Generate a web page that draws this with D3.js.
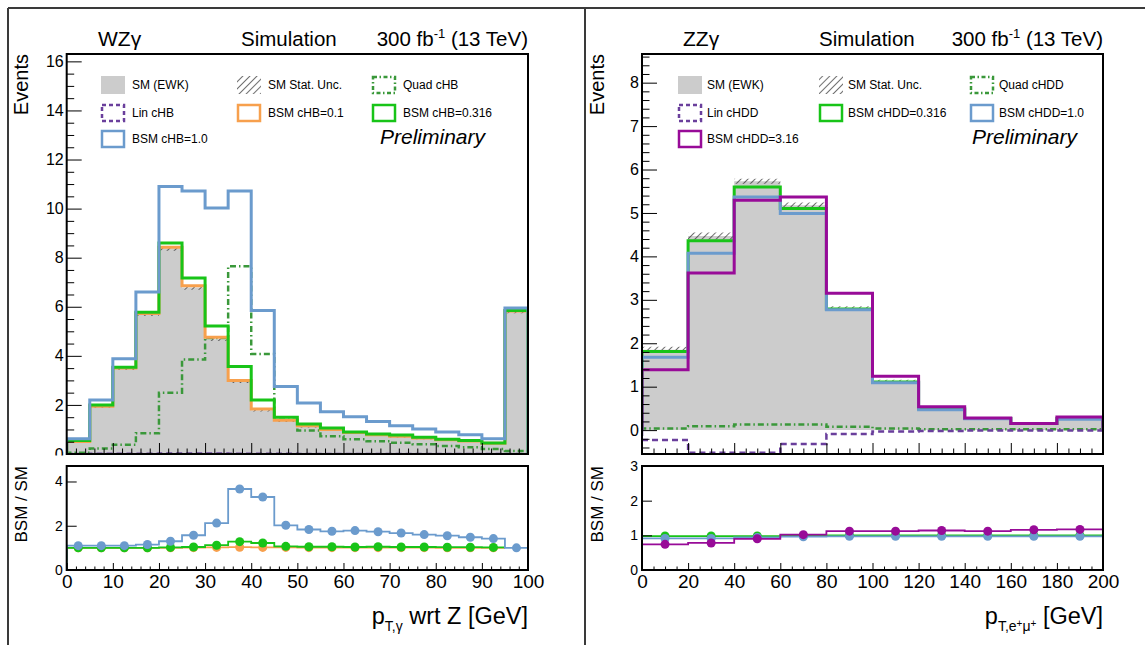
<!DOCTYPE html>
<html lang="en">
<head>
<meta charset="UTF-8">
<title>WZγ / ZZγ EFT shapes</title>
<script src="https://d3js.org/d3.v7.min.js"></script>
<style>
	body { margin: 0; background: white; }
	svg { display: block; font-family: "Liberation Sans", Arial, Helvetica, sans-serif; }
	.axis path.domain { display: none; }
	.axis line { stroke: black; stroke-width: 1; }
</style>
</head>
<body>
<div id="chart"></div>
<script>
// WZγ : photon pT wrt Z, 5 GeV bins (last one holds the overflow)
const wzEdges = [0, 5, 10, 15, 20, 25, 30, 35, 40, 45, 50, 55, 60, 65, 70, 75, 80, 85, 90, 95, 100]
const wzSM = [0.5, 1.93, 3.48, 5.7, 8.38, 6.78, 4.68, 2.95, 1.78, 1.34, 1.12, 0.98, 0.86, 0.76, 0.7, 0.63, 0.57, 0.52, 0.43, 5.82]
const wzSMUnc = [0.03, 0.05, 0.06, 0.08, 0.1, 0.09, 0.08, 0.06, 0.05, 0.04, 0.04, 0.03, 0.03, 0.03, 0.03, 0.03, 0.03, 0.03, 0.02, 0.08]
const wzLin = [0.0, 0.01, 0.01, 0.01, 0.02, 0.02, 0.02, 0.01, 0.01, 0.01, 0.0, 0.0, 0.0, 0.0, 0.0, 0.0, 0.0, 0.0, 0.0, 0.0]
const wzQuad = [0.05, 0.22, 0.38, 0.85, 2.5, 3.85, 4.73, 7.65, 4.08, 1.4, 0.96, 0.72, 0.6, 0.52, 0.46, 0.4, 0.33, 0.27, 0.2, 0.12]
const wzBSM01 = [0.51, 1.95, 3.5, 5.73, 8.42, 6.86, 4.76, 3.0, 1.83, 1.38, 1.15, 1.0, 0.88, 0.78, 0.72, 0.65, 0.58, 0.53, 0.44, 5.83]
const wzBSM0316 = [0.55, 2.0, 3.53, 5.78, 8.6, 7.17, 5.22, 3.57, 2.2, 1.5, 1.22, 1.06, 0.9, 0.82, 0.77, 0.68, 0.6, 0.55, 0.45, 5.85]
const wzBSM1 = [0.62, 2.2, 3.88, 6.6, 10.9, 10.72, 10.02, 10.72, 5.85, 2.75, 2.08, 1.72, 1.52, 1.32, 1.15, 1.02, 0.9, 0.78, 0.62, 5.95]
const wzRatio01 = [1.0, 1.0, 1.0, 1.0, 1.0, 1.01, 1.02, 1.03, 1.02, 1.02, 1.01, 1.01, 1.01, 1.01, 1.01, 1.01, 1.0, 1.0, 1.0]
const wzRatio0316 = [1.0, 1.0, 1.0, 1.0, 1.02, 1.04, 1.12, 1.28, 1.22, 1.07, 1.05, 1.05, 1.04, 1.05, 1.04, 1.04, 1.03, 1.03, 1.02]
const wzRatio1 = [1.1, 1.1, 1.1, 1.15, 1.3, 1.57, 2.12, 3.66, 3.3, 2.02, 1.83, 1.75, 1.78, 1.73, 1.67, 1.6, 1.55, 1.48, 1.42, 1.0]

// ZZγ : pT of the e+mu+ pair, 20 GeV bins
const zzEdges = [0, 20, 40, 60, 80, 100, 120, 140, 160, 180, 200]
const zzSM = [1.85, 4.47, 5.73, 5.18, 2.8, 1.12, 0.5, 0.27, 0.15, 0.27]
const zzSMUnc = [0.07, 0.08, 0.06, 0.06, 0.05, 0.04, 0.03, 0.02, 0.02, 0.02]
const zzLin = [-0.23, -0.52, -0.52, -0.32, -0.09, -0.03, -0.02, -0.01, -0.01, -0.01]
const zzQuad = [0.04, 0.09, 0.13, 0.13, 0.08, 0.04, 0.02, 0.02, 0.02, 0.02]
const zzBSM0316 = [1.81, 4.36, 5.6, 5.1, 2.79, 1.11, 0.49, 0.27, 0.15, 0.27]
const zzBSM1 = [1.68, 4.07, 5.37, 4.99, 2.77, 1.09, 0.47, 0.26, 0.15, 0.25]
const zzBSM316 = [1.39, 3.62, 5.29, 5.37, 3.15, 1.24, 0.54, 0.28, 0.15, 0.3]
const zzRatio0316 = [0.98, 0.98, 0.98, 0.99, 1.0, 1.0, 1.0, 1.0, 1.0, 1.0]
const zzRatio1 = [0.91, 0.91, 0.94, 0.96, 0.97, 0.97, 0.97, 0.97, 0.97, 0.97]
const zzRatio316 = [0.74, 0.78, 0.9, 1.02, 1.12, 1.12, 1.14, 1.12, 1.16, 1.17]

// tick labels
const wzYTicks = [0, 2, 4, 6, 8, 10, 12, 14, 16]
const zzYTicks = [0, 1, 2, 3, 4, 5, 6, 7, 8]
const wzXTicks = [0, 10, 20, 30, 40, 50, 60, 70, 80, 90, 100]
const zzXTicks = [0, 20, 40, 60, 80, 100, 120, 140, 160, 180, 200]
const wzRatioTicks = [0, 2, 4]
const zzRatioTicks = [0, 1, 2, 3]

const colSM = "#cccccc"
const colBlue = "#6b9bcd"
const colOrange = "#f7a04d"
const colGreen = "#18c418"
const colQuad = "#3a983a"
const colLin = "#6a3f9c"
const colPurple = "#980b98"

const W = 1145, H = 645
const upTop = 54, upBot = 454, rTop = 466, rBot = 570

const svg = d3.select("#chart").append("svg").attr("width", W).attr("height", H)
const defs = svg.append("defs")
const hatch = defs.append("pattern").attr("id", "hatch").attr("patternUnits", "userSpaceOnUse")
	.attr("width", 5).attr("height", 5).attr("patternTransform", "rotate(45)")
hatch.append("line").attr("x1", 0).attr("y1", 0).attr("x2", 0).attr("y2", 5)
	.attr("stroke", "#111").attr("stroke-width", 1.2)

function minorTicks(lo, hi, step, majors) {
	return d3.range(lo, hi + step / 2, step).map(v => +v.toFixed(4)).filter(v => !majors.some(m => Math.abs(m - v) < 1e-6))
}

function drawPanel(cfg) {
	const g = svg.append("g")
	const x = d3.scaleLinear().domain([cfg.edges[0], cfg.edges[cfg.edges.length - 1]]).range([cfg.left, cfg.right])
	const y = d3.scaleLinear().domain(cfg.yDomain).range([upBot, upTop])
	const yr = d3.scaleLinear().domain(cfg.rDomain).range([rBot, rTop])

	const pts = v => v.map((d, i) => [cfg.edges[i], d]).concat([[cfg.edges[v.length], v[v.length - 1]]])
	const outline = v => [[cfg.edges[0], 0]].concat(pts(v), [[cfg.edges[v.length], 0]])

	// ---- upper pad
	defs.append("clipPath").attr("id", cfg.id + "u").append("rect")
		.attr("x", cfg.left).attr("y", upTop).attr("width", cfg.right - cfg.left).attr("height", upBot - upTop)
	const up = g.append("g").attr("clip-path", `url(#${cfg.id}u)`)

	const area = d3.area().curve(d3.curveStepAfter).x(d => x(d[0])).y0(y(0)).y1(d => y(d[1]))
	up.append("path").attr("d", area(pts(cfg.sm))).attr("fill", colSM)

	const band = d3.area().curve(d3.curveStepAfter).x(d => x(d[0]))
		.y0(d => y(d[1] - d[2])).y1(d => y(d[1] + d[2]))
	const bandPts = cfg.sm.map((d, i) => [cfg.edges[i], d, cfg.smUnc[i]])
	bandPts.push([cfg.edges[cfg.sm.length], cfg.sm[cfg.sm.length - 1], cfg.smUnc[cfg.sm.length - 1]])
	up.append("path").attr("d", band(bandPts)).attr("fill", "url(#hatch)")

	const line = d3.line().curve(d3.curveStepAfter).x(d => x(d[0])).y(d => y(d[1]))
	cfg.hists.forEach(h => {
		up.append("path").attr("d", line(outline(h.values)))
			.attr("fill", "none").attr("stroke", h.color).attr("stroke-width", h.width || 3)
			.attr("stroke-dasharray", h.dash || null)
	})

	// upper axes
	g.append("g").attr("class", "axis").attr("transform", `translate(${cfg.left},0)`)
		.call(d3.axisLeft(y).tickValues(cfg.yTicks).tickSize(-15).tickPadding(3).tickFormat(d3.format("d")))
		.call(s => s.selectAll("text").attr("font-size", 16).attr("font-family", "Liberation Sans, Arial, sans-serif"))
	g.append("g").attr("class", "axis").attr("transform", `translate(${cfg.left},0)`)
		.call(d3.axisLeft(y).tickValues(cfg.yMinor).tickSize(-7.5).tickFormat(""))
	g.append("g").attr("class", "axis").attr("transform", `translate(0,${upBot})`)
		.call(d3.axisBottom(x).tickValues(cfg.xTicks).tickSize(-11).tickFormat(""))
	g.append("g").attr("class", "axis").attr("transform", `translate(0,${upBot})`)
		.call(d3.axisBottom(x).tickValues(cfg.xMinor).tickSize(-5.5).tickFormat(""))
	g.append("rect").attr("x", cfg.left).attr("y", upTop).attr("width", cfg.right - cfg.left).attr("height", upBot - upTop)
		.attr("fill", "none").attr("stroke", "black").attr("stroke-width", 2)

	// legend
	cfg.legend.forEach(e => {
		const sx = cfg.legX[e.col], sy = cfg.legY[e.row]
		if (e.kind === "fill") {
			g.append("rect").attr("x", sx).attr("y", sy - 9).attr("width", 24).attr("height", 18).attr("fill", e.color)
		} else if (e.kind === "hatch") {
			g.append("rect").attr("x", sx).attr("y", sy - 9).attr("width", 24).attr("height", 18).attr("fill", "url(#hatch)")
		} else {
			g.append("rect").attr("x", sx + 1).attr("y", sy - 8).attr("width", 22).attr("height", 16)
				.attr("fill", "none").attr("stroke", e.color).attr("stroke-width", 2.5)
				.attr("stroke-dasharray", e.dash || null)
		}
		g.append("text").attr("x", sx + cfg.legTextDx).attr("y", sy).attr("dy", "0.35em")
			.attr("font-size", 12).text(e.label)
	})
	g.append("text").attr("x", cfg.prelimX).attr("y", 144).attr("font-size", 21)
		.attr("font-style", "italic").text("Preliminary")

	// titles above the frame
	g.append("text").attr("x", cfg.procX).attr("y", 46).attr("font-size", 21).text(cfg.process)
	g.append("text").attr("x", cfg.simX).attr("y", 46).attr("font-size", 20.5).text("Simulation")
	const lumi = g.append("text").attr("x", cfg.right).attr("y", 46).attr("font-size", 20.5).attr("text-anchor", "end")
	lumi.append("tspan").text("300 fb")
	lumi.append("tspan").attr("font-size", 13).attr("dy", -8).text("-1")
	lumi.append("tspan").attr("dy", 8).text(" (13 TeV)")

	g.append("text").attr("transform", `translate(${cfg.yTitleX},${upTop}) rotate(-90)`)
		.attr("text-anchor", "end").attr("font-size", 20).text("Events")

	// cover between pads (ratio pad is opaque)
	g.append("rect").attr("x", cfg.padLeft).attr("y", 455.5).attr("width", cfg.padRight - cfg.padLeft).attr("height", H - 455.5)
		.attr("fill", "white")

	// ---- ratio pad
	defs.append("clipPath").attr("id", cfg.id + "r").append("rect")
		.attr("x", cfg.left).attr("y", rTop).attr("width", cfg.right - cfg.left).attr("height", rBot - rTop)
	const rp = g.append("g").attr("clip-path", `url(#${cfg.id}r)`)
	const rline = d3.line().curve(d3.curveStepAfter).x(d => x(d[0])).y(d => yr(d[1]))
	cfg.ratios.forEach(r => {
		const p = [[cfg.edges[0], 0]].concat(pts(r.values))
		rp.append("path").attr("d", rline(p)).attr("fill", "none").attr("stroke", r.color).attr("stroke-width", 1.8)
		rp.selectAll(null).data(r.values).join("circle")
			.attr("cx", (d, i) => x((cfg.edges[i] + cfg.edges[i + 1]) / 2))
			.attr("cy", d => yr(d)).attr("r", 4.5).attr("fill", r.color)
	})

	g.append("g").attr("class", "axis").attr("transform", `translate(${cfg.left},0)`)
		.call(d3.axisLeft(yr).tickValues(cfg.rTicks).tickSize(-10).tickPadding(4).tickFormat(d3.format("d")))
		.call(s => s.selectAll("text").attr("font-size", 14).attr("font-family", "Liberation Sans, Arial, sans-serif"))
	g.append("g").attr("class", "axis").attr("transform", `translate(0,${rBot})`)
		.call(d3.axisBottom(x).tickValues(cfg.xTicks).tickSize(-7).tickPadding(5).tickFormat(d3.format("d")))
		.call(s => s.selectAll("text").attr("font-size", 19).attr("font-family", "Liberation Sans, Arial, sans-serif"))
	g.append("g").attr("class", "axis").attr("transform", `translate(0,${rBot})`)
		.call(d3.axisBottom(x).tickValues(cfg.xMinor).tickSize(-3.5).tickFormat(""))
	g.append("rect").attr("x", cfg.left).attr("y", rTop).attr("width", cfg.right - cfg.left).attr("height", rBot - rTop)
		.attr("fill", "none").attr("stroke", "black").attr("stroke-width", 2)

	g.append("text").attr("transform", `translate(${cfg.yTitleX - 1},${rTop}) rotate(-90)`)
		.attr("text-anchor", "end").attr("font-size", 17).text("BSM / SM")

	// x-axis title
	const xt = g.append("text").attr("x", cfg.right).attr("y", 624).attr("font-size", 23.5).attr("text-anchor", "end")
	cfg.xTitle(xt)
}

const dashLin = "6,4"
const dashQuad = "6,3,1.5,3"

drawPanel({
	id: "wz", left: 66.7, right: 528, padLeft: 9, padRight: 584,
	edges: wzEdges, yDomain: [0, 16.3], rDomain: [0, 4.7],
	yTicks: wzYTicks, yMinor: minorTicks(0, 16, 0.5, wzYTicks),
	xTicks: wzXTicks, xMinor: minorTicks(0, 100, 2, wzXTicks), rTicks: wzRatioTicks,
	sm: wzSM, smUnc: wzSMUnc,
	hists: [
		{ values: wzLin, color: colLin, dash: dashLin, width: 2.5 },
		{ values: wzQuad, color: colQuad, dash: dashQuad, width: 2.5 },
		{ values: wzBSM01, color: colOrange },
		{ values: wzBSM0316, color: colGreen },
		{ values: wzBSM1, color: colBlue }
	],
	ratios: [
		{ values: wzRatio01, color: colOrange },
		{ values: wzRatio0316, color: colGreen },
		{ values: wzRatio1, color: colBlue }
	],
	legX: [101, 237, 372], legY: [85, 113, 139], legTextDx: 31, prelimX: 380,
	legend: [
		{ label: "SM (EWK)", kind: "fill", color: colSM, col: 0, row: 0 },
		{ label: "SM Stat. Unc.", kind: "hatch", col: 1, row: 0 },
		{ label: "Quad cHB", kind: "line", color: colQuad, dash: "4,2.5,1.5,2.5", col: 2, row: 0 },
		{ label: "Lin cHB", kind: "line", color: colLin, dash: "4,3", col: 0, row: 1 },
		{ label: "BSM cHB=0.1", kind: "line", color: colOrange, col: 1, row: 1 },
		{ label: "BSM cHB=0.316", kind: "line", color: colGreen, col: 2, row: 1 },
		{ label: "BSM cHB=1.0", kind: "line", color: colBlue, col: 0, row: 2 }
	],
	process: "WZγ", procX: 98, simX: 241, yTitleX: 28,
	xTitle: t => {
		t.append("tspan").text("p")
		t.append("tspan").attr("font-size", 14).attr("dy", 7).text("T,γ")
		t.append("tspan").attr("dy", -7).text(" wrt Z [GeV]")
	}
})

drawPanel({
	id: "zz", left: 642, right: 1103, padLeft: 586, padRight: W,
	edges: zzEdges, yDomain: [-0.55, 8.66], rDomain: [0, 3],
	yTicks: zzYTicks, yMinor: minorTicks(-0.4, 8.6, 0.2, zzYTicks),
	xTicks: zzXTicks, xMinor: minorTicks(0, 200, 5, zzXTicks), rTicks: zzRatioTicks,
	sm: zzSM, smUnc: zzSMUnc,
	hists: [
		{ values: zzQuad, color: colQuad, dash: dashQuad, width: 2.5 },
		{ values: zzLin, color: colLin, dash: dashLin, width: 2.5 },
		{ values: zzBSM0316, color: colGreen },
		{ values: zzBSM1, color: colBlue },
		{ values: zzBSM316, color: colPurple }
	],
	ratios: [
		{ values: zzRatio0316, color: colGreen },
		{ values: zzRatio1, color: colBlue },
		{ values: zzRatio316, color: colPurple }
	],
	legX: [678, 819, 970], legY: [85, 113, 139], legTextDx: 29, prelimX: 972,
	legend: [
		{ label: "SM (EWK)", kind: "fill", color: colSM, col: 0, row: 0 },
		{ label: "SM Stat. Unc.", kind: "hatch", col: 1, row: 0 },
		{ label: "Quad cHDD", kind: "line", color: colQuad, dash: "4,2.5,1.5,2.5", col: 2, row: 0 },
		{ label: "Lin cHDD", kind: "line", color: colLin, dash: "4,3", col: 0, row: 1 },
		{ label: "BSM cHDD=0.316", kind: "line", color: colGreen, col: 1, row: 1 },
		{ label: "BSM cHDD=1.0", kind: "line", color: colBlue, col: 2, row: 1 },
		{ label: "BSM cHDD=3.16", kind: "line", color: colPurple, col: 0, row: 2 }
	],
	process: "ZZγ", procX: 683, simX: 819, yTitleX: 604,
	xTitle: t => {
		t.append("tspan").text("p")
		t.append("tspan").attr("font-size", 14).attr("dy", 7).text("T,e")
		t.append("tspan").attr("font-size", 10).attr("dy", -4).text("+")
		t.append("tspan").attr("font-size", 14).attr("dy", 4).text("μ")
		t.append("tspan").attr("font-size", 10).attr("dy", -4).text("+")
		t.append("tspan").attr("dy", -3).text(" [GeV]")
	}
})

// outer canvas frame and divider
const frame = svg.append("g").attr("stroke", "#3a3a3a").attr("stroke-width", 2)
frame.append("line").attr("x1", 8).attr("y1", 8).attr("x2", W).attr("y2", 8)
frame.append("line").attr("x1", 8).attr("y1", 8).attr("x2", 8).attr("y2", H)
frame.append("line").attr("x1", 585).attr("y1", 8).attr("x2", 585).attr("y2", H)
</script>
</body>
</html>
